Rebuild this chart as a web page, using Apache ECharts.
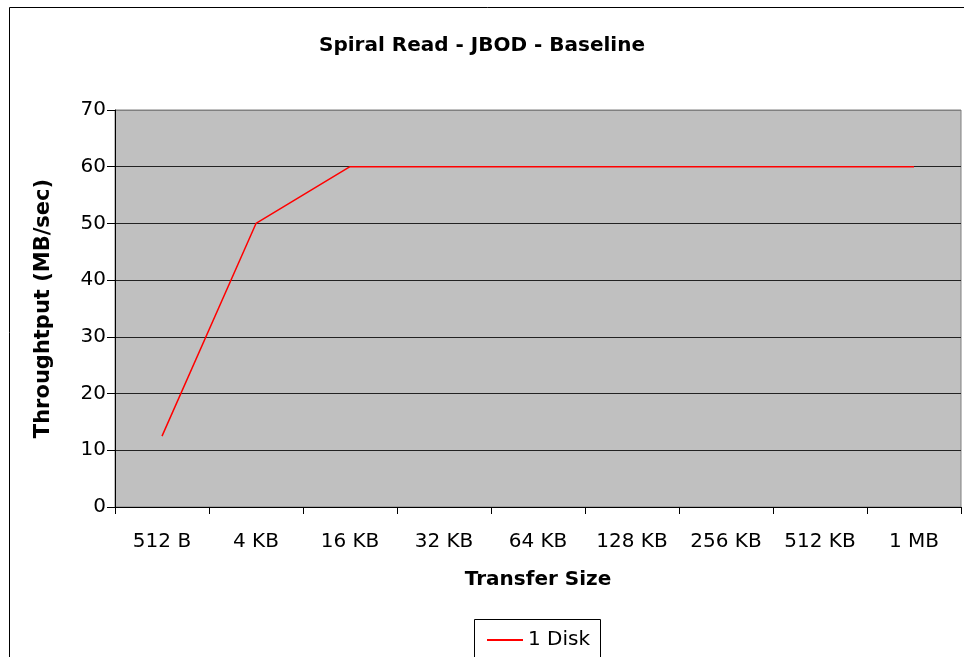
<!DOCTYPE html>
<html><head><meta charset="utf-8">
<script src="https://cdn.jsdelivr.net/npm/echarts@6/dist/echarts.min.js"></script>
<style>html,body{margin:0;padding:0;background:#fff}#c{width:964px;height:657px}</style>
</head><body><div id="c"></div>
<script>
var categories = ['512 B','4 KB','16 KB','32 KB','64 KB','128 KB','256 KB','512 KB','1 MB'];
var disk1 = [12.5, 50, 60, 60, 60, 60, 60, 60, 60];
var seriesName = '1 Disk';
var chart = echarts.init(document.getElementById('c'), null, {renderer:'canvas'});
var F = 'DejaVu Sans, sans-serif';
chart.setOption({
  animation:false,
  backgroundColor:'#fff',
  title:{text:'Spiral Read - JBOD - Baseline',left:'center',top:31,
    textStyle:{fontFamily:F,fontSize:20,fontWeight:'bold',color:'#000'}},
  graphic:[
    {type:'rect',shape:{x:9.5,y:7.5,width:1000,height:700},style:{fill:'none',stroke:'#000',lineWidth:1},z:-1},
    {type:'rect',shape:{x:474.5,y:619.5,width:126,height:60},style:{fill:'#fff',stroke:'#000',lineWidth:1},z:5}
  ],
  legend:{data:[seriesName],left:482,top:625,itemWidth:36,itemHeight:2,itemGap:6,icon:'rect',
    textStyle:{fontFamily:F,fontSize:20,color:'#000'},z:10},
  grid:{left:115,right:3,top:110,bottom:150,backgroundColor:'#c0c0c0',show:true,borderColor:'#808080',borderWidth:1},
  xAxis:{type:'category',data:categories,boundaryGap:true,
    name:'Transfer Size',nameLocation:'middle',nameGap:63,
    nameTextStyle:{fontFamily:F,fontSize:20,fontWeight:'bold',color:'#000'},
    axisLine:{lineStyle:{color:'#000',width:1}},
    axisTick:{show:true,length:7,lineStyle:{color:'#000'}},
    axisLabel:{fontFamily:F,fontSize:20,color:'#000',margin:25,interval:0},
    splitLine:{show:false}},
  yAxis:{type:'value',min:0,max:70,interval:10,
    name:'Throughtput (MB/sec)',nameLocation:'middle',nameGap:61,
    nameTextStyle:{fontFamily:F,fontSize:21,fontWeight:'bold',color:'#000'},
    axisLine:{show:true,lineStyle:{color:'#000',width:1}},
    axisTick:{show:true,length:8,inside:false,lineStyle:{color:'#000'}},
    axisLabel:{fontFamily:F,fontSize:20,color:'#000',margin:9},
    splitLine:{show:true,lineStyle:{color:['#222','#222','#222','#222','#222','#222','#222','#808080'],width:1}}},
  series:[{name:seriesName,type:'line',data:disk1,symbol:'none',
    lineStyle:{color:'#ff0000',width:1.5},itemStyle:{color:'#ff0000'}}]
});
</script></body></html>
